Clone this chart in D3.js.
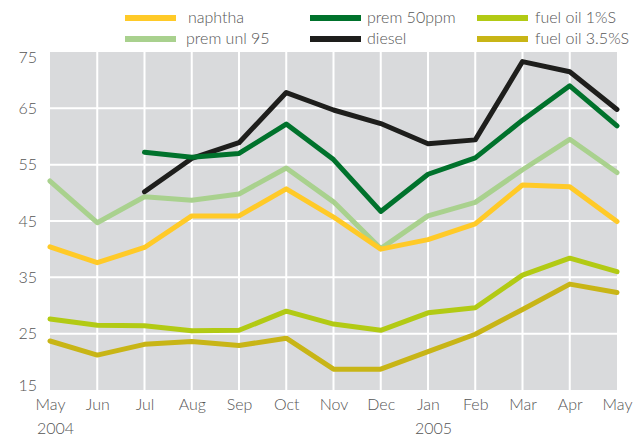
<!DOCTYPE html>
<html><head><meta charset="utf-8">
<script src="https://cdn.jsdelivr.net/npm/d3@7"></script>
<style>body{margin:0;background:#fff}text{font-family:Lato,"Open Sans",sans-serif;font-weight:300}</style>
</head><body><svg id="c" width="643" height="438"></svg>
<script>
const months = ["May","Jun","Jul","Aug","Sep","Oct","Nov","Dec","Jan","Feb","Mar","Apr","May "];
const monthLabels = ["May","Jun","Jul","Aug","Sep","Oct","Nov","Dec","Jan","Feb","Mar","Apr","May"];
const yearLabels = [{i:0,t:"2004"},{i:8,t:"2005"}];
const yTicks = [15,25,35,45,55,65,75];
const naphtha = [40.4,37.6,40.3,45.9,45.9,50.7,45.7,40.0,41.7,44.5,51.4,51.1,44.9];
const premUnl95 = [52.1,44.7,49.3,48.7,49.8,54.4,48.4,40.1,45.9,48.3,54.1,59.5,53.6];
const prem50ppm = [null,null,57.2,56.3,57.0,62.2,55.9,46.7,53.3,56.2,62.9,69.0,61.9];
const diesel = [null,null,50.2,56.1,58.9,67.8,64.7,62.3,58.7,59.4,73.3,71.5,64.8];
const fuelOil1 = [27.6,26.5,26.4,25.5,25.6,29.0,26.7,25.6,28.7,29.6,35.4,38.4,36.0];
const fuelOil35 = [23.7,21.2,23.1,23.6,22.9,24.2,18.7,18.7,21.8,24.9,29.3,33.8,32.3];

const series = [
  {name:"fuel oil 3.5%S", values:fuelOil35, color:"#c8b516"},
  {name:"fuel oil 1%S", values:fuelOil1, color:"#b2ca14"},
  {name:"prem unl 95", values:premUnl95, color:"#a9d18e"},
  {name:"naphtha", values:naphtha, color:"#ffca28"},
  {name:"diesel", values:diesel, color:"#1e1e1c"},
  {name:"prem 50ppm", values:prem50ppm, color:"#00722c"}
];
const legend = [
  {name:"naphtha", col:0,row:0},{name:"prem 50ppm", col:1,row:0},{name:"fuel oil 1%S", col:2,row:0},
  {name:"prem unl 95", col:0,row:1},{name:"diesel", col:1,row:1},{name:"fuel oil 3.5%S", col:2,row:1}
];

const svg = d3.select("#c");
const L=50,R=617,T=52,B=390;
const x = d3.scalePoint().domain(months).range([L,R]);
const y = d3.scaleLinear().domain([15,75]).range([B,T]);

svg.append("rect").attr("x",L).attr("y",T).attr("width",R-L).attr("height",B-T).attr("fill","#d9dadc");
svg.append("g").selectAll("line").data(months.slice(1,-1)).join("line")
  .attr("x1",d=>x(d)).attr("x2",d=>x(d)).attr("y1",T).attr("y2",B)
  .attr("stroke","#fff").attr("stroke-width",2);
svg.append("g").selectAll("line").data(yTicks.slice(1,-1)).join("line")
  .attr("x1",L).attr("x2",R).attr("y1",d=>y(d)).attr("y2",d=>y(d))
  .attr("stroke","#fff").attr("stroke-width",2);

const yAxis = svg.append("g").attr("transform",`translate(${L},0)`)
  .call(d3.axisLeft(y).tickValues(yTicks).tickSize(0).tickPadding(13));
yAxis.select(".domain").remove();
yAxis.selectAll("text").attr("font-size",16).attr("fill","#555")
  .style("font-family","Lato,'Open Sans',sans-serif")
  .attr("transform",d=>d===75?"translate(0,5)":d===15?"translate(0,-5)":null);

const xAxis = svg.append("g").attr("transform",`translate(0,${B})`)
  .call(d3.axisBottom(x).tickSize(0).tickPadding(9).tickFormat((d,i)=>monthLabels[i]));
xAxis.select(".domain").remove();
xAxis.selectAll("text").attr("font-size",16).attr("fill","#555")
  .style("font-family","Lato,'Open Sans',sans-serif");

svg.append("g").selectAll("text").data(yearLabels).join("text")
  .attr("x",d=>x(months[d.i])-13).attr("y",434)
  .attr("font-size",16).attr("fill","#555").text(d=>d.t);

const line = d3.line().defined(v=>v!==null).x((v,i)=>x(months[i])).y(v=>y(v));
svg.append("g").selectAll("path").data(series).join("path")
  .attr("d",d=>line(d.values)).attr("fill","none")
  .attr("stroke",d=>d.color).attr("stroke-width",5)
  .attr("stroke-linejoin","round").attr("stroke-linecap","round");

const colX=[125,310,477], rowY=[18,39], colT=[188,367,535];
const colorOf = n=>series.find(s=>s.name===n).color;
const lg = svg.append("g").selectAll("g").data(legend).join("g");
lg.append("line").attr("x1",d=>colX[d.col]).attr("x2",d=>colX[d.col]+51)
  .attr("y1",d=>rowY[d.row]).attr("y2",d=>rowY[d.row])
  .attr("stroke",d=>colorOf(d.name)).attr("stroke-width",6);
lg.append("text").attr("x",d=>colT[d.col]-(d.row===1&&d.col===0?2:0)).attr("y",d=>rowY[d.row]+5)
  .attr("font-size",16).attr("fill","#555").text(d=>d.name);
</script></body></html>
